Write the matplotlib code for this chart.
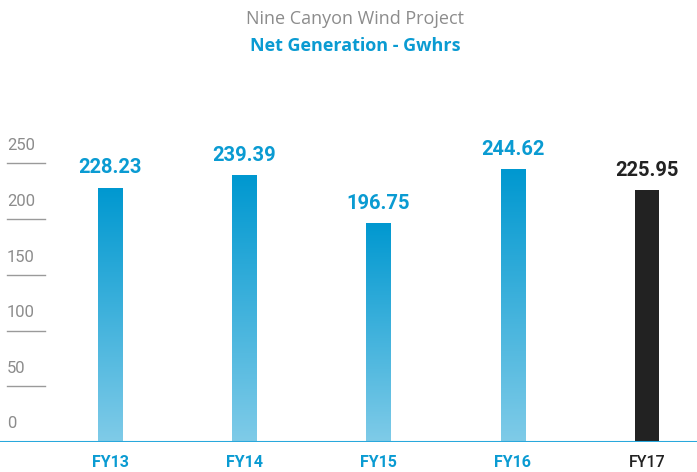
import matplotlib.pyplot as plt
import numpy as np
from matplotlib.colors import LinearSegmentedColormap

# Net generation per fiscal year (GWh)
years = ['FY13', 'FY14', 'FY15', 'FY16', 'FY17']
values = [228.23, 239.39, 196.75, 244.62, 225.95]
y_ticks = [0, 50, 100, 150, 200, 250]

blue = '#0a9bd2'
dark = '#222222'
grey = '#8c8c8c'

fig = plt.figure(figsize=(6.97, 4.72), dpi=100)
ax = fig.add_axes([0, 30 / 472, 1, 334.5 / 472])
ax.set_xlim(-110 / 134.25, 587 / 134.25)
ax.set_ylim(0, 300)
ax.axis('off')

x = np.arange(len(years))
colors = ['none'] * 4 + [dark]
bars = ax.bar(x, values, width=0.18, color=colors, zorder=2)

# gradient fill for the first four bars
cmap = LinearSegmentedColormap.from_list('grad', ['#7fcbe8', '#0098d0'])
grad = np.linspace(0, 1, 256).reshape(-1, 1)
for b in bars[:4]:
    x0, y0 = b.get_x(), b.get_y()
    im = ax.imshow(grad, cmap=cmap, origin='lower', aspect='auto',
                   extent=[x0, x0 + b.get_width(), y0, y0 + b.get_height()], zorder=2)
    im.set_clip_path(b)

# value labels
for i, v in enumerate(values):
    c = dark if i == 4 else blue
    ax.text(i, v + 9, f'{v:.2f}', ha='center', va='bottom', color=c,
            fontsize=14.5, family='Roboto', fontweight='semibold')

# year labels
for i, yr in enumerate(years):
    c = dark if i == 4 else blue
    ax.text(i, -18, yr, ha='center', va='center', color=c,
            fontsize=11.5, family='Roboto', fontweight='bold' if i < 4 else 'medium')

# left scale: short lines with labels above them
lx0, lx1 = -103 / 134.25, -65 / 134.25
for t in y_ticks:
    if t > 0:
        ax.plot([lx0, lx1], [t, t], color='#9a9a9a', lw=1, zorder=1)
    ax.text(lx0, t + 9 if t > 0 else 10, str(t), ha='left', va='bottom',
            color=grey, fontsize=12, family='Roboto')

# baseline
ax.axhline(0, color='#29a8dc', lw=1.5, zorder=3)

fig.text(355 / 697, 1 - 19 / 472, 'Nine Canyon Wind Project', ha='center', va='center',
         color=grey, fontsize=13, family='Open Sans')
fig.text(355 / 697, 1 - 46 / 472, 'Net Generation - Gwhrs', ha='center', va='center',
         color=blue, fontsize=13, family='Open Sans', fontweight='bold')

fig.savefig('out.png', dpi=100)
